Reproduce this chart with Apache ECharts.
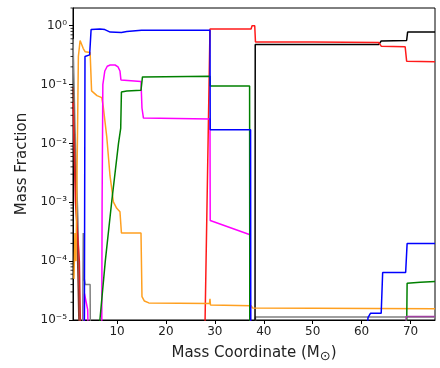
<!DOCTYPE html>
<html>
<head>
<meta charset="utf-8">
<script src="https://cdn.jsdelivr.net/npm/echarts@6/dist/echarts.min.js"></script>
<style>html,body{margin:0;padding:0;background:#fff}#c{width:440px;height:368px}</style>
</head>
<body>
<div id="c"></div>
<script>
// ---- data (mass coordinate [Msun], mass fraction) ----
const xTicks = [10, 20, 30, 40, 50, 60, 70];
const yTickExponents = [0, -1, -2, -3, -4, -5];
const minorMultipliers = [2, 3, 4, 5, 6, 7, 8, 9];

const blueA = [[3.3,1e-6],[3.45,0.3],[4.4,0.32],[4.7,0.86],[6.5,0.88],[7.5,0.86],[8.6,0.78],[10.9,0.77],[12,0.8],[15,0.84],[29,0.84],[29.05,0.017],[37.3,0.017],[37.35,1e-6]];
const blueB = [[60.8,1e-6],[61.3,1.1e-5],[61.8,1.3e-5],[64,1.3e-5],[64.3,6.4e-5],[69,6.4e-5],[69.3,2e-4],[75,2e-4]];

const greenA = [[6.45,1e-6],[6.5,1e-5],[7.6,1e-4],[8.9,1e-3],[10.3,1e-2],[10.75,0.018],[10.9,0.075],[12,0.078],[14.9,0.08],[15.2,0.135],[29,0.139],[29.05,0.095],[37.1,0.095],[37.15,1e-6]];
const greenB = [[69.1,1e-6],[69.3,4.2e-5],[72,4.4e-5],[75,4.5e-5]];

const magentaA = [[3.2,1e-6],[3.35,2.8e-5],[3.6,2.2e-5],[4.0,1.5e-5],[4.3,1e-6]];
const magentaB = [[6.85,1e-6],[6.95,1e-3],[7.1,0.1],[7.5,0.17],[8.0,0.205],[8.6,0.215],[9.6,0.215],[10.2,0.2],[10.6,0.17],[10.8,0.12],[11.2,0.115],[14.9,0.113],[15.1,0.04],[15.4,0.027],[29,0.026],[29.05,4.9e-4],[37.2,2.8e-4],[37.3,1e-6]];

const purple = [[69.0,1e-6],[69.1,1.15e-5],[75,1.15e-5]];

const brown = [[1.0,0.09],[1.3,0.01],[1.8,4e-4],[2.2,1e-5],[2.3,1e-6]];
const redA = [[1.0,0.05],[1.5,1e-3],[2.3,1e-4],[2.7,1e-6]];
const redB = [[27.9,1e-6],[28.0,1e-5],[29.0,0.88],[37.4,0.88],[37.6,1.0],[38.15,1.0],[38.3,0.53],[50,0.53],[63.5,0.52],[64.0,0.45],[68.9,0.44],[69.2,0.25],[75,0.245]];

const black = [[38.2,1e-6],[38.25,0.48],[63.5,0.48],[64.0,0.55],[69.2,0.56],[69.4,0.78],[75,0.78]];

const orange = [[1.2,5e-5],[1.4,3e-4],[1.6,1e-4],[1.8,2e-3],[2.1,0.3],[2.45,0.56],[3.1,0.41],[3.5,0.36],[4.5,0.35],[4.8,0.078],[5.9,0.065],[6.88,0.06],[7.2,0.041],[7.9,0.013],[8.57,2.8e-3],[8.92,1.7e-3],[9.25,1.02e-3],[9.94,7.9e-4],[10.6,6.9e-4],[10.9,3e-4],[14.9,3e-4],[15.1,2.5e-5],[15.6,2.1e-5],[16.5,1.95e-5],[28.9,1.9e-5],[29.0,2.3e-5],[29.1,1.8e-5],[37.4,1.75e-5],[37.7,1.6e-5],[75,1.55e-5]];

const grayA = [[1.0,0.6],[1.4,0.02],[2.0,5e-4],[2.4,1e-5],[2.6,1e-6]];
const grayB = [[2.9,1e-6],[3.1,3e-4],[3.3,5e-5],[3.5,4e-5],[4.5,4e-5],[4.6,1e-6]];
const grayC = [[38.2,1e-6],[38.3,1.12e-5],[75,1.12e-5]];

// ---- chart ----
const sup = {'0':'⁰','1':'¹','2':'²','3':'³','4':'⁴','5':'⁵','6':'⁶','7':'⁷','8':'⁸','9':'⁹','-':'⁻'};
function supStr(n){return String(n).split('').map(c=>sup[c]).join('');}

const minorTickValues = [];
yTickExponents.forEach(function(e){ minorMultipliers.forEach(function(m){
  const v = m * Math.pow(10, e);
  if (v >= 1e-5 && v <= 2) minorTickValues.push([1, v]);
});});

function line(data, color, w){
  return {type:'line', data:data, showSymbol:false, symbol:'none', clip:true,
    lineStyle:{color:color, width:w||1.5}, itemStyle:{color:color}, animation:false, z:2};
}

const chart = echarts.init(document.getElementById('c'), null, {renderer:'canvas'});
chart.setOption({
  animation:false,
  backgroundColor:'#fff',
  grid:{left:73, right:5, top:8, bottom:40, show:true, borderColor:'#000', borderWidth:1, backgroundColor:'transparent'},
  xAxis:{
    type:'value', min:1, max:75, splitNumber:7,
    name:'Mass Coordinate (M{s|⊙})', nameLocation:'middle', nameGap:24,
    nameTextStyle:{fontFamily:'DejaVu Sans', fontSize:15, color:'#222',
      rich:{s:{fontFamily:'DejaVu Sans', fontSize:13, color:'#222', padding:[6,0,0,0]}}},
    axisLine:{show:true, lineStyle:{color:'#000', width:1}},
    axisTick:{show:true, length:4, lineStyle:{color:'#000'}},
    axisLabel:{fontFamily:'DejaVu Sans', fontSize:12, color:'#222', margin:6, showMinLabel:false, showMaxLabel:false,
      formatter:function(v){return xTicks.indexOf(v)>=0 ? String(v) : '';}},
    splitLine:{show:false}
  },
  yAxis:{
    type:'log', logBase:10, min:1e-5, max:2,
    name:'Mass Fraction', nameLocation:'middle', nameGap:42,
    nameTextStyle:{fontFamily:'DejaVu Sans', fontSize:15, color:'#222'},
    axisLine:{show:true, lineStyle:{color:'#000', width:1}},
    axisTick:{show:true, length:4, lineStyle:{color:'#000'}},
    minorTick:{show:false},
    axisLabel:{fontFamily:'DejaVu Sans', fontSize:12, color:'#222', margin:6, showMaxLabel:false,
      formatter:function(v){
        const e = Math.round(Math.log10(v));
        if (yTickExponents.indexOf(e)<0 || Math.abs(Math.log10(v)-e)>1e-6) return '';
        return '10' + supStr(e);
      }},
    splitLine:{show:false}
  },
  series:[
    {type:'custom', data:minorTickValues, clip:false, silent:true, z:5,
      renderItem:function(params, api){
        const p = api.coord([api.value(0), api.value(1)]);
        return {type:'line', shape:{x1:p[0]-2.5, y1:p[1], x2:p[0], y2:p[1]},
          style:{stroke:'#000', lineWidth:0.8}};
      }},
    line(grayA,'#808080'), line(grayB,'#808080'), line(grayC,'#808080'),
    line(black,'#000000'),
    line(brown,'#8b3a2a'), line(redA,'#e02020'), line(redB,'#ff1a1a'),
    line(orange,'#ffa020'),
    line(magentaA,'#ff00ff'), line(magentaB,'#ff00ff'),
    line(greenA,'#008000'), line(greenB,'#008000'),
    line(blueA,'#0000ff'), line(blueB,'#0000ff'),
    line(purple,'#a040a0')
  ]
});
</script>
</body>
</html>
